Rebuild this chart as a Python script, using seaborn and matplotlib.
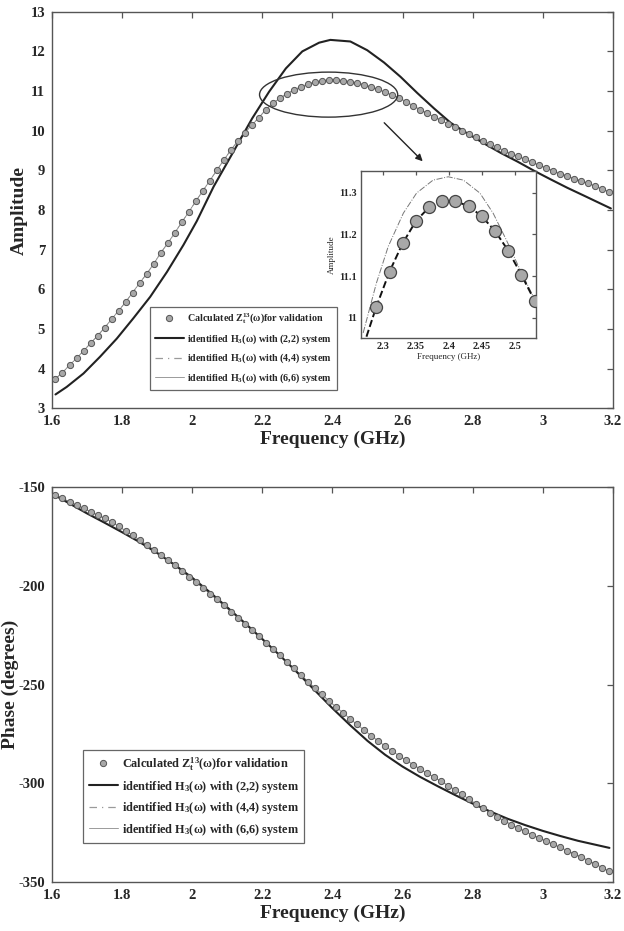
import numpy as np
import pandas as pd
import matplotlib
matplotlib.use("Agg")
import matplotlib.pyplot as plt
from matplotlib.patches import Ellipse
from matplotlib.lines import Line2D
import seaborn as sns

sns.set_style("white")
plt.rcParams['font.family'] = ['Liberation Serif', 'DejaVu Serif']
plt.rcParams['mathtext.fontset'] = 'custom'
plt.rcParams['mathtext.rm'] = 'Liberation Serif'
plt.rcParams['mathtext.bf'] = 'Liberation Serif:bold'
plt.rcParams['mathtext.it'] = 'Liberation Serif:italic'
plt.rcParams['axes.unicode_minus'] = False

# calculated Z_t^13 (validation points), 1.61 .. 3.19 GHz
freq = np.round(np.arange(1.61, 3.195, 0.02), 2)
amp_calc = [3.75, 3.90, 4.09, 4.26, 4.45, 4.64, 4.83, 5.03, 5.25, 5.46,
            5.68, 5.92, 6.16, 6.39, 6.64, 6.92, 7.16, 7.42, 7.69, 7.95,
            8.22, 8.48, 8.74, 9.00, 9.26, 9.51, 9.74, 9.95, 10.14, 10.33,
            10.53, 10.69, 10.82, 10.93, 11.027, 11.11, 11.175, 11.23, 11.263, 11.277,
            11.278, 11.265, 11.24, 11.205, 11.16, 11.103, 11.04, 10.97, 10.90, 10.83,
            10.73, 10.63, 10.53, 10.44, 10.35, 10.26, 10.17, 10.09, 10.00, 9.91,
            9.83, 9.74, 9.66, 9.58, 9.50, 9.42, 9.35, 9.28, 9.20, 9.13,
            9.06, 8.99, 8.92, 8.86, 8.79, 8.73, 8.67, 8.60, 8.53, 8.46]
phase_calc = [-154.2, -155.9, -157.6, -159.3, -160.9, -162.6, -164.3, -166.0, -167.8, -170.0,
              -172.3, -174.6, -176.9, -179.4, -181.9, -184.5, -187.1, -189.8, -192.6, -195.4,
              -198.2, -201.0, -204.0, -207.0, -210.0, -213.1, -216.2, -219.3, -222.5, -225.7,
              -228.9, -232.1, -235.3, -238.6, -241.9, -245.2, -248.5, -251.8, -255.0, -258.3,
              -261.3, -264.3, -267.3, -270.2, -273.0, -275.8, -278.5, -281.1, -283.6, -286.0,
              -288.3, -290.5, -292.7, -294.8, -296.9, -299.0, -301.1, -303.3, -305.6, -308.0,
              -310.4, -312.6, -314.8, -316.9, -318.9, -320.8, -322.6, -324.3, -326.0, -327.6,
              -329.2, -330.8, -332.4, -334.0, -335.6, -337.3, -339.0, -340.8, -342.6, -344.5]

# identified (2,2) system
freq_22 = [1.61, 1.642, 1.69, 1.737, 1.785, 1.832, 1.88, 1.928, 1.975, 2.013,
           2.061, 2.12, 2.171, 2.219, 2.267, 2.314, 2.362, 2.394, 2.451, 2.499,
           2.547, 2.594, 2.642, 2.69, 2.737, 2.785, 2.832, 2.88, 2.928, 2.975,
           3.023, 3.07, 3.118, 3.194]
amp_22 = [3.35, 3.54, 3.88, 4.30, 4.76, 5.27, 5.81, 6.44, 7.12, 7.72,
          8.59, 9.51, 10.31, 10.98, 11.57, 12.0, 12.22, 12.29, 12.25, 12.03,
          11.72, 11.36, 10.95, 10.56, 10.20, 9.93, 9.68, 9.44, 9.22, 8.99,
          8.77, 8.56, 8.36, 8.04]
freq_22p = [1.60, 1.65, 1.70, 1.75, 1.80, 1.85, 1.90, 1.95, 2.00, 2.05,
            2.10, 2.15, 2.20, 2.25, 2.30, 2.35, 2.40, 2.45, 2.50, 2.55,
            2.60, 2.65, 2.70, 2.75, 2.80, 2.85, 2.90, 2.95, 3.00, 3.05,
            3.10, 3.15, 3.19]
phase_22 = [-153.5, -158.5, -163.5, -168.2, -173.0, -178.0, -183.5, -189.5, -196.0, -203.3,
            -211.0, -218.9, -227.0, -235.3, -244.0, -253.0, -262.0, -270.5, -278.5, -285.5,
            -291.5, -296.7, -301.4, -305.9, -310.2, -314.2, -317.9, -321.1, -324.0, -326.6,
            -329.0, -331.0, -332.6]

# zoomed inset curves
inset_freq = [2.29, 2.31, 2.33, 2.35, 2.37, 2.39, 2.41, 2.43, 2.45, 2.47, 2.49, 2.51, 2.53]
inset_calc = [11.027, 11.111, 11.179, 11.232, 11.265, 11.279, 11.279, 11.268, 11.243, 11.208, 11.161, 11.103, 11.041]
inset_dash_x = [2.275] + inset_freq
inset_dash_y = [10.955] + inset_calc
inset_dd_x = [2.270, 2.290, 2.308, 2.331, 2.351, 2.376, 2.399, 2.422, 2.447, 2.467, 2.487, 2.508, 2.528]
inset_dd_y = [10.964, 11.083, 11.171, 11.251, 11.299, 11.330, 11.338, 11.330, 11.299, 11.251, 11.187, 11.115, 11.051]

lab_calc = r'Calculated $\mathbf{Z_t^{13}(\omega)}$for validation'
lab_22 = r'identified $\mathbf{H_{3}(\omega)}$ with (2,2) system'
lab_44 = r'identified $\mathbf{H_{3}(\omega)}$ with (4,4) system'
lab_66 = r'identified $\mathbf{H_{3}(\omega)}$ with (6,6) system'

df = pd.DataFrame({'f': freq, 'amp': amp_calc, 'phase': phase_calc})

fig = plt.figure(figsize=(6.24, 9.31), dpi=100)
ax1 = fig.add_axes([0.0833, 0.5614, 0.8990, 0.4260])
ax2 = fig.add_axes([0.0833, 0.0523, 0.8990, 0.4249])

edge = '#555555'


def style_axes(ax, size):
    for s in ax.spines.values():
        s.set_color(edge)
        s.set_linewidth(1.0)
    ax.tick_params(direction='in', length=4, width=0.9, color=edge,
                   top=True, right=True, labelsize=size, pad=5)
    for t in ax.get_xticklabels() + ax.get_yticklabels():
        t.set_fontweight('bold')


for ax, col, ylab, ylim, yticks, lx in [
        (ax1, 'amp', 'Amplitude', (3, 13), np.arange(3, 14, 1), -0.043),
        (ax2, 'phase', 'Phase (degrees)', (-350, -150), np.arange(-350, -149, 50), -0.059)]:
    sns.lineplot(data=df, x='f', y=col, ax=ax, color='#9a9a9a', lw=0.6, ls='-.', label=None)
    sns.lineplot(data=df, x='f', y=col, ax=ax, color='#8a8a8a', lw=0.6, label=None)
    sns.scatterplot(data=df, x='f', y=col, ax=ax, s=20, color='#a8a8a8',
                    edgecolor='#555555', linewidth=0.7, zorder=3, label=None)
    if col == 'amp':
        sns.lineplot(x=freq_22, y=amp_22, ax=ax, color='#222222', lw=1.5, sort=False, label=None)
    else:
        sns.lineplot(x=freq_22p, y=phase_22, ax=ax, color='#222222', lw=1.5, sort=False, label=None)
    ax.set_xlim(1.6, 3.2)
    ax.set_ylim(*ylim)
    ax.set_xticks(np.round(np.arange(1.6, 3.21, 0.2), 1))
    ax.set_xticklabels(['1.6', '1.8', '2', '2.2', '2.4', '2.6', '2.8', '3', '3.2'])
    ax.set_yticks(yticks)
    ax.set_xlabel('Frequency (GHz)', fontsize=14, fontweight='bold', labelpad=2)
    ax.set_ylabel(ylab, fontsize=14, fontweight='bold')
    ax.yaxis.set_label_coords(lx, 0.5)
    style_axes(ax, 10.5)

# legends
handles = [Line2D([], [], ls='none', marker='o', ms=4.5, mfc='#a8a8a8', mec='#555555', mew=0.7),
           Line2D([], [], color='#222222', lw=1.5),
           Line2D([], [], color='#9a9a9a', lw=0.9, ls=(0, (6, 4, 1, 4))),
           Line2D([], [], color='#9a9a9a', lw=0.7)]
labels = [lab_calc, lab_22, lab_44, lab_66]
leg1 = ax1.legend(handles, labels, loc='upper left', bbox_to_anchor=(0.1747, 0.2554),
                  borderaxespad=0, fontsize=7.2, handlelength=2.9, handletextpad=0.3,
                  labelspacing=0.6, fancybox=False, edgecolor='#666666', framealpha=1,
                  borderpad=0.5)
leg1.get_frame().set_linewidth(0.9)
for t in leg1.get_texts():
    t.set_fontweight('bold')
leg2 = ax2.legend(handles, labels, loc='upper left', bbox_to_anchor=(0.0553, 0.3344),
                  borderaxespad=0, fontsize=8.8, handlelength=2.4, handletextpad=0.3,
                  labelspacing=0.45, fancybox=False, edgecolor='#666666', framealpha=1,
                  borderpad=0.45)
leg2.get_frame().set_linewidth(0.9)
for t in leg2.get_texts():
    t.set_fontweight('bold')

# ellipse and arrow on amplitude plot
ax1.add_patch(Ellipse((2.389, 10.91), 0.394, 1.135, fill=False, ec='#333333', lw=1.0, zorder=4))
ax1.annotate('', xy=(2.663, 9.18), xytext=(2.542, 10.25),
             arrowprops=dict(arrowstyle='-|>', color='#222222', lw=1.0, mutation_scale=10))

# inset
axi = fig.add_axes([0.5785, 0.6370, 0.2804, 0.1794])
sns.lineplot(x=inset_dd_x, y=inset_dd_y, ax=axi, color='#777777', lw=0.7, ls='-.', sort=False)
sns.lineplot(x=inset_dash_x, y=inset_dash_y, ax=axi, color='#111111', lw=1.4, ls='--', sort=False)
sns.scatterplot(x=inset_freq, y=inset_calc, ax=axi, s=75, color='#a8a8a8',
                edgecolor='#444444', linewidth=0.9, zorder=3)
axi.set_xlim(2.2667, 2.532)
axi.set_ylim(10.952, 11.352)
axi.set_xticks([2.3, 2.35, 2.4, 2.45, 2.5])
axi.set_xticklabels(['2.3', '2.35', '2.4', '2.45', '2.5'])
axi.set_yticks([11.0, 11.1, 11.2, 11.3])
axi.set_yticklabels(['11', '11.1', '11.2', '11.3'])
axi.set_xlabel('Frequency (GHz)', fontsize=6.5, labelpad=1)
axi.set_ylabel('Amplitude', fontsize=6.5, labelpad=2)
style_axes(axi, 7.5)
axi.tick_params(length=3, pad=3)

fig.savefig('out.png', dpi=100, facecolor='white')
